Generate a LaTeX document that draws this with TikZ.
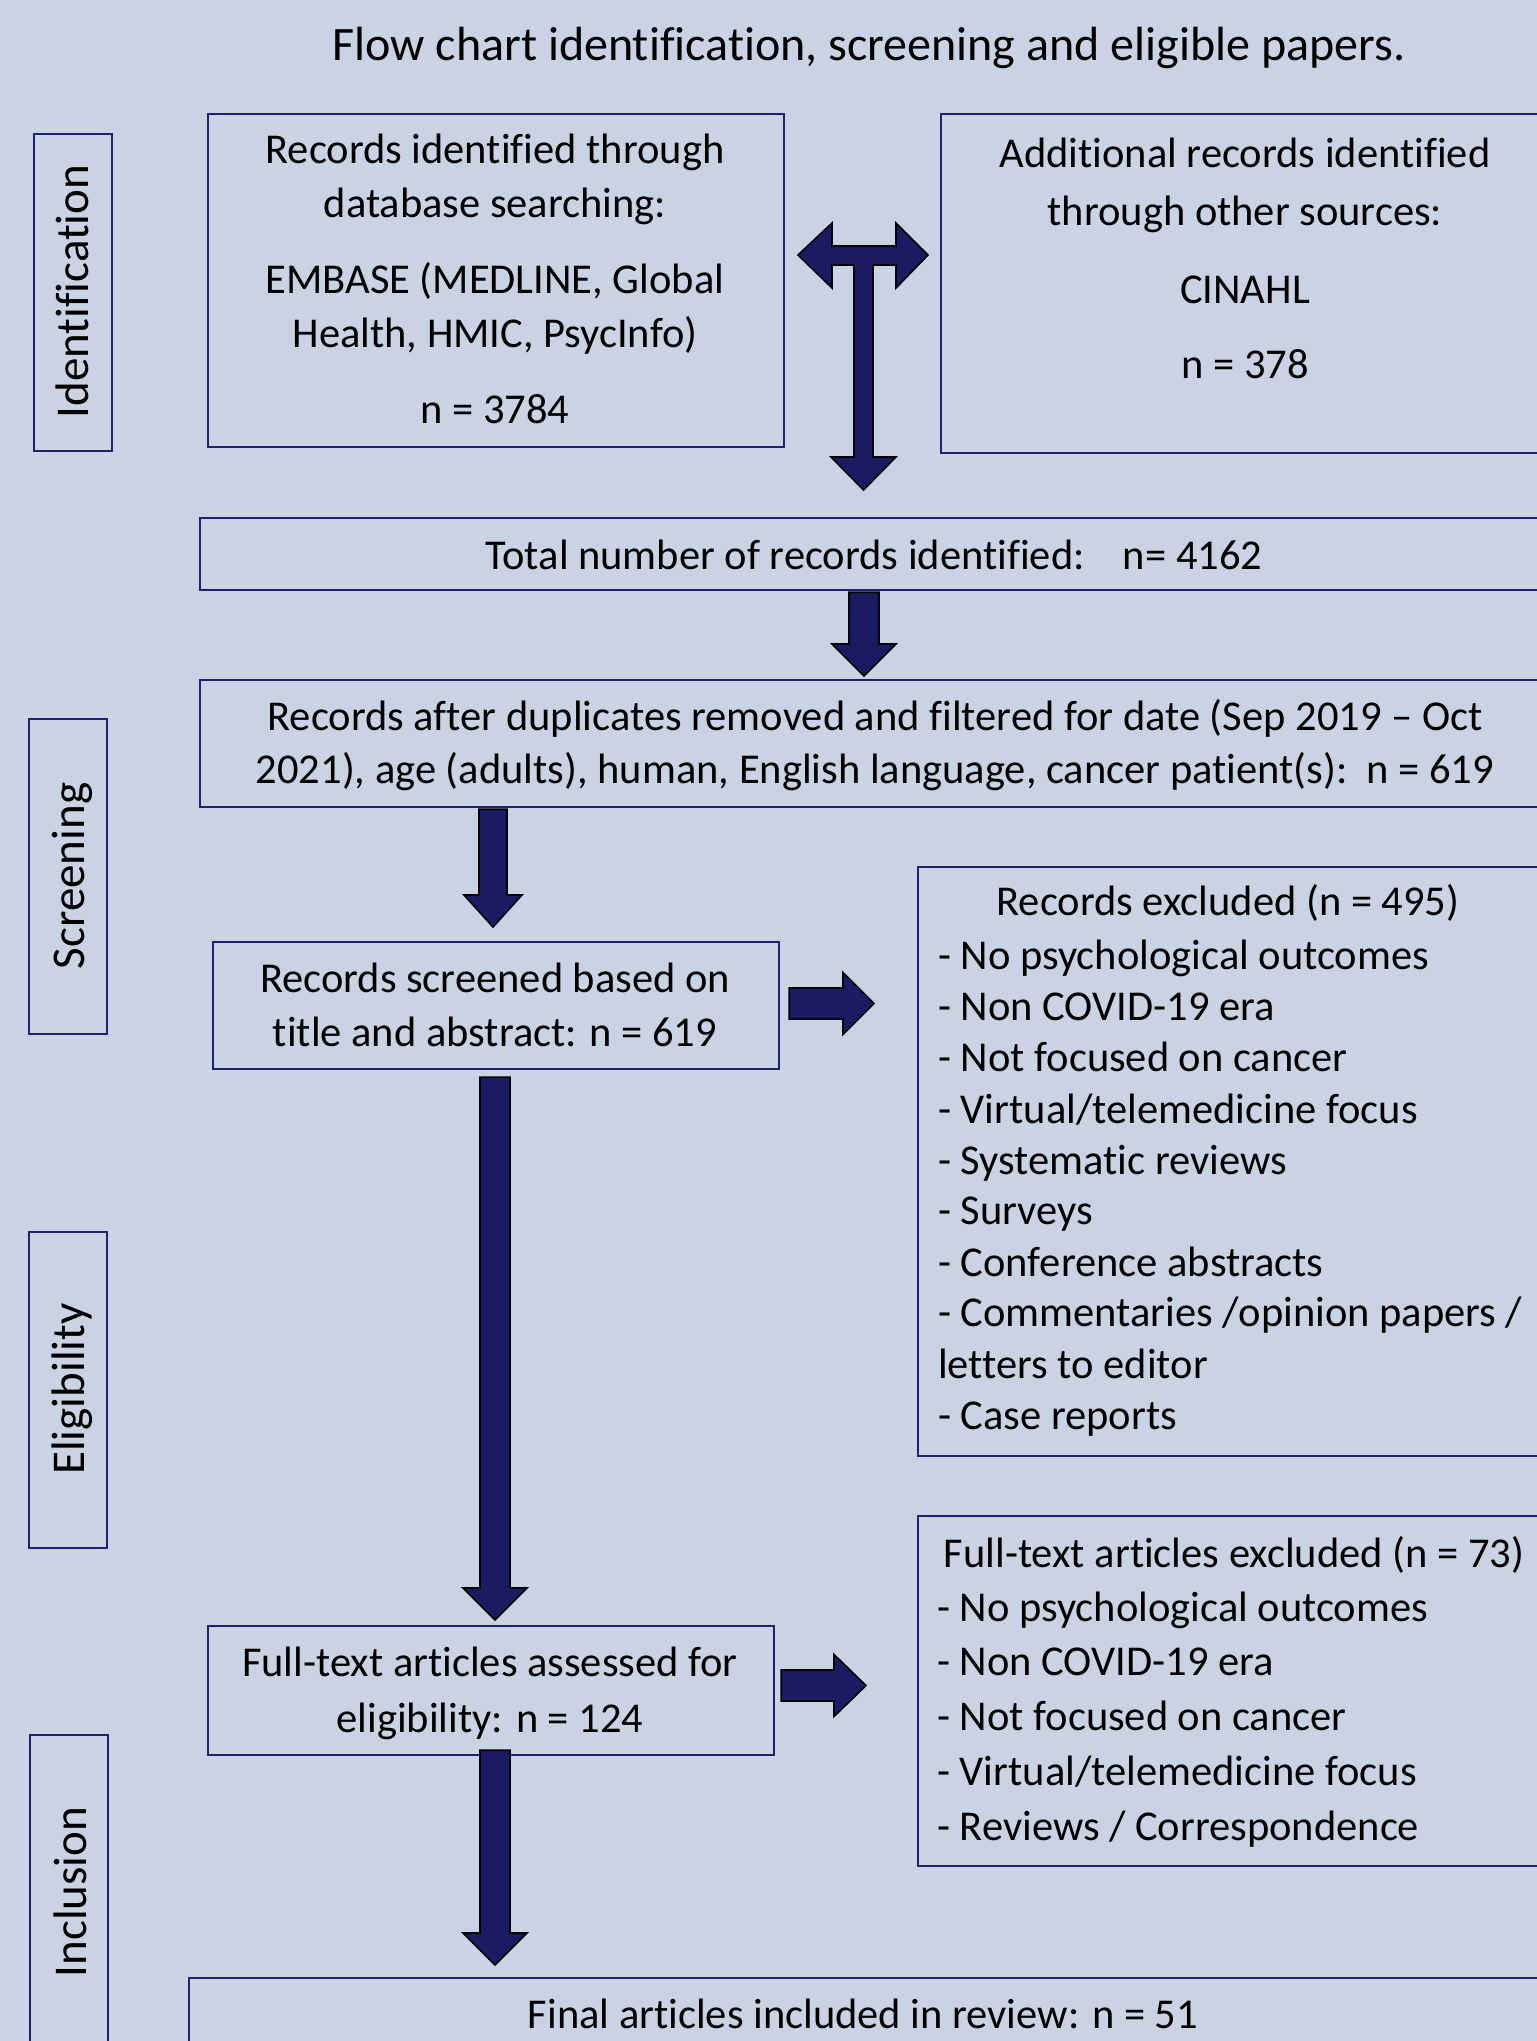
\documentclass[tikz,border=0pt]{standalone}
\usepackage{fontspec}
\setmainfont{Carlito}[Ligatures={TeX,NoCommon}]
\usetikzlibrary{calc}
\definecolor{bgcol}{HTML}{C9D3E4}
\definecolor{boxline}{HTML}{1F216E}
\definecolor{arrowfill}{HTML}{1B1B63}
\tikzset{
  box/.style={draw=boxline, line width=2.2bp, inner sep=0pt, anchor=north west},
  txt/.style={font=\fontsize{42.5bp}{51bp}\selectfont, inner sep=0pt, anchor=base},
  ltxt/.style={txt, anchor=base west},
  ttl/.style={font=\fontsize{48bp}{58bp}\selectfont, inner sep=0pt, anchor=base},
  side/.style={font=\fontsize{47bp}{56bp}\selectfont, inner sep=0pt, anchor=base, rotate=90},
  blockarrow/.style={fill=arrowfill, draw=black, line width=1.6bp, line join=miter}
}
% vertical block arrow: #1 x, #2 from anchor, #3 start offset, #4 to anchor, #5 end gap, #6 shaft half, #7 head half
\newcommand{\vblockarrow}[7]{%
  \path[blockarrow] let \p1=(#2), \p2=(#4) in
   ({(#1-#6)*1bp},{\y1-(#3)*1bp}) -- ({(#1+#6)*1bp},{\y1-(#3)*1bp}) --
   ({(#1+#6)*1bp},{\y2+(#5+32)*1bp}) -- ({(#1+#7)*1bp},{\y2+(#5+32)*1bp}) --
   ({#1*1bp},{\y2+(#5)*1bp}) -- ({(#1-#7)*1bp},{\y2+(#5+32)*1bp}) --
   ({(#1-#6)*1bp},{\y2+(#5+32)*1bp}) -- cycle;}
% horizontal block arrow: #1 y, #2 from anchor, #3 start gap, #4 head base x, #5 tip x, #6 shaft half, #7 head half
\newcommand{\hblockarrow}[7]{%
  \path[blockarrow] let \p1=(#2) in
   ({\x1+(#3)*1bp},{-(#1-#6)*1bp}) -- ({#4*1bp},{-(#1-#6)*1bp}) --
   ({#4*1bp},{-(#1-#7)*1bp}) -- ({#5*1bp},{-#1*1bp}) --
   ({#4*1bp},{-(#1+#7)*1bp}) -- ({#4*1bp},{-(#1+#6)*1bp}) --
   ({\x1+(#3)*1bp},{-(#1+#6)*1bp}) -- cycle;}
\begin{document}
\begin{tikzpicture}[x=1bp,y=-1bp]
\useasboundingbox (0,0) rectangle (1537,2041);
\clip (0,0) rectangle (1537,2041);
\fill[bgcol] (0,0) rectangle (1537,2041);

% title
\node[ttl] (title) at (869,60) {Flow chart identification, screening and eligible papers.};

% side labels
\node[box, minimum width=78bp, minimum height=317bp] (sideI) at (33,133) {};
\node[side] (sideIt) at (88,291.5) {Identification};
\node[box, minimum width=78bp, minimum height=315bp] (sideS) at (28,718) {};
\node[side] (sideSt) at (84,876) {Screening};
\node[box, minimum width=78bp, minimum height=316bp] (sideE) at (28,1231) {};
\node[side] (sideEt) at (84,1389) {Eligibility};
\node[box, minimum width=78bp, minimum height=330bp] (sideN) at (29,1734) {};
\node[side] (sideNt) at (86,1892) {Inclusion};

% boxes
\node[box, minimum width=576bp, minimum height=333bp] (A) at (207,113) {};
\node[box, minimum width=620bp, minimum height=339bp] (B) at (940,113) {};
\node[box, minimum width=1360bp, minimum height=72bp] (T) at (199,517) {};
\node[box, minimum width=1360bp, minimum height=127bp] (C) at (199,679) {};
\node[box, minimum width=566bp, minimum height=127bp] (E) at (212,941) {};
\node[box, minimum width=640bp, minimum height=589bp] (D) at (917,866) {};
\node[box, minimum width=566bp, minimum height=129bp] (F) at (207,1625) {};
\node[box, minimum width=640bp, minimum height=350bp] (G) at (917,1515) {};
\node[box, minimum width=1370bp, minimum height=100bp] (H) at (188,1977) {};

% texts box A
\node[txt] (A1) at (495,163) {Records identified through};
\node[txt] (A2) at (495,217) {database searching:};
\node[txt] (A3) at (495,293) {EMBASE (MEDLINE, Global};
\node[txt] (A4) at (495,347) {Health, HMIC, PsycInfo)};
\node[txt] (A5) at (495,423) {n = 3784};
% box B
\node[txt] (B1) at (1245,167) {Additional records identified};
\node[txt] (B2) at (1245,225) {through other sources:};
\node[txt] (B3) at (1245,303) {CINAHL};
\node[txt] (B4) at (1245,378) {n = 378};
% total
\node[txt] (T1) at (874,569) {Total number of records identified:\hspace{0.9em}n= 4162};
% box C
\node[txt] (C1) at (875,730) {Records after duplicates removed and filtered for date (Sep 2019 – Oct};
\node[txt] (C2) at (875,783) {2021), age (adults), human, English language, cancer patient(s):\ \ n = 619};
% box E
\node[txt] (E1) at (495,992) {Records screened based on};
\node[txt] (E2) at (495,1046) {title and abstract: n = 619};
% box D
\node[txt] (D0) at (1228,915) {Records excluded (n = 495)};
\node[ltxt] (D1) at (938,969) {- No psychological outcomes};
\node[ltxt] (D2) at (938,1020) {- Non COVID-19 era};
\node[ltxt] (D3) at (938,1071) {- Not focused on cancer};
\node[ltxt] (D4) at (938,1123) {- Virtual/telemedicine focus};
\node[ltxt] (D5) at (938,1174) {- Systematic reviews};
\node[ltxt] (D6) at (938,1224) {- Surveys};
\node[ltxt] (D7) at (938,1276) {- Conference abstracts};
\node[ltxt] (D8) at (938,1326) {- Commentaries /opinion papers /};
\node[ltxt] (D9) at (938,1378) {letters to editor};
\node[ltxt] (D10) at (938,1429) {- Case reports};
% box F
\node[txt] (F1) at (490,1676) {Full-text articles assessed for};
\node[txt] (F2) at (490,1732) {eligibility: n = 124};
% box G
\node[txt] (G0) at (1234,1567) {Full-text articles excluded (n = 73)};
\node[ltxt] (G1) at (937,1621) {- No psychological outcomes};
\node[ltxt] (G2) at (937,1675) {- Non COVID-19 era};
\node[ltxt] (G3) at (937,1730) {- Not focused on cancer};
\node[ltxt] (G4) at (937,1785) {- Virtual/telemedicine focus};
\node[ltxt] (G5) at (937,1840) {- Reviews / Correspondence};
% box H
\node[txt] (H1) at (863,2028) {Final articles included in review: n = 51};

% T-shaped double arrow between A and B, down to T
\path[blockarrow] (798,255) -- (832,223) -- (832,246) -- (896,246) -- (896,223) -- (928,255)
  -- (896,288) -- (896,265) -- (873,265) -- (873,457) -- (896,457) -- (863.5,490)
  -- (831,457) -- (854,457) -- (854,265) -- (832,265) -- (832,288) -- cycle;

% vertical arrows
\vblockarrow{864}{T.south}{1}{C.north}{3}{15}{32}
\vblockarrow{493}{C.south}{1}{E.north}{14}{14}{29}
\vblockarrow{495}{E.south}{7}{F.north}{5}{15}{32}
\vblockarrow{495}{F.south}{-6}{H.north}{12}{15}{32}

% horizontal arrows
\hblockarrow{1003.5}{E.east}{9}{843}{874}{15.5}{31}
\hblockarrow{1685.5}{F.east}{6}{834}{866}{15.5}{31}
\end{tikzpicture}
\end{document}
